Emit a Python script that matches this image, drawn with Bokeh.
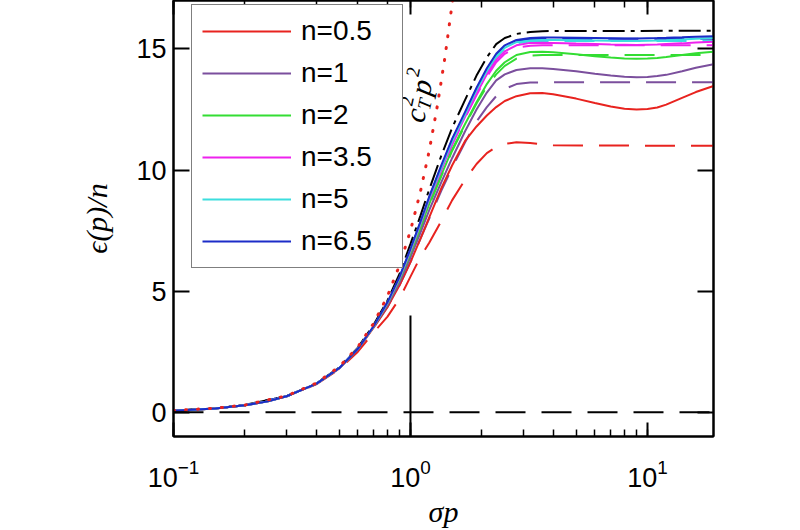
import math
from bokeh.plotting import figure
from bokeh.models import (LogAxis, LinearAxis, Range1d, Legend, LegendItem, Label,
                          FixedTicker, CustomJSTickFormatter, Span)
from bokeh.embed import file_html
from bokeh.resources import INLINE

# ---------------- data ----------------
x_solid = [0.1, 0.12, 0.15, 0.2, 0.25, 0.3, 0.4, 0.5, 0.6, 0.7, 0.8, 0.9, 1.0, 1.1, 1.2, 1.35,
           1.5, 1.7, 1.9, 2.1, 2.3, 2.5, 2.8, 3.2, 3.6, 4, 5, 6, 7, 8, 9, 10, 11, 12, 14, 16, 19]

y_n05 = [0.06, 0.1, 0.16, 0.29, 0.45, 0.66, 1.17, 1.8, 2.6, 3.5, 4.35, 5.25, 6.2, 7.15, 8.05, 9.25,
         10.2, 11.2, 11.8, 12.25, 12.6, 12.85, 13.05, 13.17, 13.18, 13.13, 12.95, 12.77, 12.62, 12.53,
         12.5, 12.52, 12.58, 12.7, 12.98, 13.22, 13.47]
y_n1 = [0.06, 0.1, 0.16, 0.29, 0.45, 0.66, 1.17, 1.82, 2.62, 3.53, 4.42, 5.37, 6.4, 7.4, 8.35, 9.5,
        10.5, 11.6, 12.5, 13.2, 13.7, 13.95, 14.13, 14.2, 14.2, 14.17, 14.08, 13.98, 13.9, 13.85,
        13.83, 13.84, 13.88, 13.93, 14.08, 14.22, 14.37]
y_n2 = [0.06, 0.1, 0.16, 0.29, 0.45, 0.66, 1.17, 1.82, 2.62, 3.54, 4.47, 5.47, 6.55, 7.6, 8.6, 9.8,
        10.85, 11.9, 12.8, 13.55, 14.1, 14.45, 14.75, 14.87, 14.88, 14.86, 14.78, 14.7, 14.65, 14.61,
        14.6, 14.61, 14.63, 14.67, 14.75, 14.82, 14.88]
y_n35 = [0.06, 0.1, 0.16, 0.29, 0.45, 0.66, 1.17, 1.82, 2.62, 3.55, 4.5, 5.53, 6.65, 7.75, 8.8, 10.0,
         11.1, 12.2, 13.15, 13.95, 14.55, 14.9, 15.15, 15.25, 15.26, 15.25, 15.22, 15.2, 15.18, 15.17,
         15.16, 15.17, 15.18, 15.2, 15.23, 15.27, 15.3]
y_n5 = [0.06, 0.1, 0.16, 0.29, 0.45, 0.66, 1.17, 1.82, 2.62, 3.55, 4.53, 5.57, 6.7, 7.8, 8.85, 10.1,
        11.2, 12.3, 13.3, 14.1, 14.7, 15.05, 15.28, 15.35, 15.37, 15.37, 15.36, 15.35, 15.34, 15.33,
        15.33, 15.34, 15.35, 15.36, 15.39, 15.42, 15.45]
y_n65 = [0.06, 0.1, 0.16, 0.29, 0.45, 0.66, 1.17, 1.82, 2.62, 3.56, 4.55, 5.6, 6.75, 7.85, 8.9, 10.2,
         11.3, 12.4, 13.4, 14.2, 14.8, 15.15, 15.37, 15.45, 15.47, 15.47, 15.46, 15.45, 15.44, 15.43,
         15.43, 15.44, 15.45, 15.46, 15.48, 15.5, 15.52]

x_dash = [0.1, 0.15, 0.2, 0.3, 0.4, 0.5, 0.6, 0.7, 0.8, 0.9, 1.0, 1.1, 1.2, 1.35, 1.5, 1.7, 1.9,
          2.1, 2.3, 2.5, 2.8, 3.2, 3.6, 4, 19]
yd_n05 = [0.06, 0.16, 0.29, 0.66, 1.15, 1.78, 2.5, 3.3, 3.95, 4.7, 5.6, 6.4, 7.0, 7.9, 8.76, 9.6,
          10.25, 10.7, 10.95, 11.08, 11.15, 11.12, 11.06, 11.02, 11.0]
yd_n1 = [0.06, 0.16, 0.29, 0.66, 1.17, 1.82, 2.6, 3.5, 4.35, 5.25, 6.2, 7.15, 8.0, 9.15, 10.1, 11.15,
         12.0, 12.6, 13.05, 13.35, 13.55, 13.61, 13.62, 13.62, 13.62]
yd_n2 = [0.06, 0.16, 0.29, 0.66, 1.17, 1.82, 2.62, 3.54, 4.45, 5.43, 6.5, 7.55, 8.55, 9.75, 10.8,
         11.85, 12.75, 13.45, 13.95, 14.3, 14.6, 14.72, 14.75, 14.75, 14.75]
yd_n35 = [0.06, 0.16, 0.29, 0.66, 1.17, 1.82, 2.62, 3.55, 4.5, 5.52, 6.62, 7.72, 8.75, 9.95, 11.05,
          12.15, 13.1, 13.85, 14.45, 14.8, 15.05, 15.13, 15.15, 15.15, 15.15]
yd_n5 = [0.06, 0.16, 0.29, 0.66, 1.17, 1.82, 2.62, 3.55, 4.52, 5.56, 6.68, 7.78, 8.83, 10.05, 11.15,
         12.25, 13.25, 14.05, 14.65, 15.0, 15.23, 15.31, 15.33, 15.33, 15.33]
yd_n65 = [0.06, 0.16, 0.29, 0.66, 1.17, 1.82, 2.62, 3.56, 4.54, 5.58, 6.72, 7.82, 8.87, 10.15, 11.25,
          12.35, 13.35, 14.15, 14.75, 15.1, 15.33, 15.41, 15.42, 15.42, 15.42]
yd_limit = [0.06, 0.16, 0.3, 0.67, 1.19, 1.85, 2.67, 3.62, 4.62, 5.72, 6.95, 8.1, 9.2, 10.6, 11.75,
            12.9, 13.9, 14.65, 15.2, 15.45, 15.62, 15.7, 15.73, 15.74, 15.75]

x_parab = [0.1, 0.15, 0.2, 0.3, 0.4, 0.5, 0.6, 0.7, 0.8, 0.9, 1.0, 1.1, 1.2, 1.3, 1.4, 1.5, 1.55]
y_parab = [0.075, 0.17, 0.3, 0.68, 1.2, 1.88, 2.7, 3.68, 4.8, 6.08, 7.5, 9.08, 10.8, 12.68, 14.7,
           16.88, 18.0]

labels = ["n=0.5", "n=1", "n=2", "n=3.5", "n=5", "n=6.5"]
colors = ["#e8231f", "#7b4f9d", "#33dd33", "#ee22ee", "#3cdede", "#1c2cc8"]
solid_series = [y_n05, y_n1, y_n2, y_n35, y_n5, y_n65]
dash_series = [yd_n05, yd_n1, yd_n2, yd_n35, yd_n5, yd_n65]

y_ticks = [0, 5, 10, 15]
zero_level = 0.0
vline_x = [1.0]
vline_y = [-1.0, 4.0]
x_lim = (0.1, 19.0)
y_lim = (-1.0, 17.0)

# ---------------- figure ----------------
p = figure(width=790, height=530, x_axis_type="log",
           x_range=Range1d(*x_lim), y_range=Range1d(*y_lim),
           output_backend="svg", toolbar_location=None,
           min_border_left=173, min_border_right=77, min_border_top=0, min_border_bottom=94)
p.grid.visible = False
p.outline_line_color = "black"
p.outline_line_width = 2
p.background_fill_color = "white"
p.border_fill_color = "white"

tick_font = "Liberation Sans"
math_font = "Liberation Serif"

def style_x(ax, show_labels):
    ax.axis_line_width = 2
    ax.axis_line_color = "black"
    ax.major_tick_in = 14
    ax.major_tick_out = 0
    ax.minor_tick_in = 7
    ax.minor_tick_out = 0
    ax.major_tick_line_width = 2
    ax.minor_tick_line_width = 1.5
    ax.major_tick_line_color = "black"
    ax.minor_tick_line_color = "black"
    if show_labels:
        ax.major_label_text_font = tick_font
        ax.major_label_text_font_size = "27px"
        ax.major_label_text_color = "black"
        ax.major_label_standoff = 22
    else:
        ax.formatter = CustomJSTickFormatter(code="return ''")
        ax.major_label_standoff = 0

def style_y(ax, show_labels):
    ax.ticker = FixedTicker(ticks=y_ticks, minor_ticks=[])
    ax.axis_line_width = 2
    ax.axis_line_color = "black"
    ax.major_tick_in = 16
    ax.major_tick_out = 0
    ax.minor_tick_in = 0
    ax.minor_tick_out = 0
    ax.major_tick_line_width = 2
    ax.major_tick_line_color = "black"
    if show_labels:
        ax.major_label_text_font = tick_font
        ax.major_label_text_font_size = "27px"
        ax.major_label_text_color = "black"
        ax.major_label_standoff = 7
    else:
        ax.formatter = CustomJSTickFormatter(code="return ''")
        ax.major_label_standoff = 0

xb = p.xaxis[0]
style_x(xb, True)
xb.axis_label = "σp"
xb.axis_label_text_font = math_font
xb.axis_label_text_font_style = "italic"
xb.axis_label_text_font_size = "30px"
xb.axis_label_standoff = 5
xb.axis_label_text_color = "black"

yl = p.yaxis[0]
style_y(yl, True)
yl.axis_label = "ϵ(p)/n"
yl.axis_label_text_font = math_font + ", DejaVu Serif"
yl.axis_label_text_font_style = "italic"
yl.axis_label_text_font_size = "30px"
yl.axis_label_standoff = 20
yl.axis_label_text_color = "black"

xt = LogAxis()
style_x(xt, False)
p.add_layout(xt, "above")
yr = LinearAxis()
style_y(yr, False)
p.add_layout(yr, "right")

# reference lines
p.add_layout(Span(location=zero_level, dimension="width", line_color="black",
                  line_width=2, line_dash="30 16"))
p.segment(x0=vline_x, y0=[vline_y[0]], x1=vline_x, y1=[vline_y[1]],
          line_color="black", line_width=2)

# dashed curves
for ys, c in zip(dash_series, colors):
    p.line(x_dash, ys, line_color=c, line_width=2, line_dash="30 16")

# dash-dot limit curve
p.line(x_dash, yd_limit, line_color="black", line_width=2, line_dash="22 6 4 6")

# solid curves
items = []
for ys, c, lab in zip(solid_series, colors, labels):
    r = p.line(x_solid, ys, line_color=c, line_width=2)
    items.append(LegendItem(label=lab, renderers=[r]))

# dotted parabola
p.line(x_parab, y_parab, line_color="#e8231f", line_width=3, line_dash="1 11",
       line_cap="round")

legend = Legend(items=items, location=(18, 168), padding=10, spacing=10,
                glyph_height=30, label_height=30, glyph_width=89, label_standoff=10,
                label_width=91, margin=0,
                label_text_font=tick_font, label_text_font_size="28px",
                label_text_color="black", border_line_color="black",
                border_line_width=1.5, background_fill_color="white",
                background_fill_alpha=1.0)
p.add_layout(legend, "center")

# c_T^2 p^2 annotation, rotated
theta = math.radians(78)
anchor_x, anchor_y = 1.03, 12.0
pieces = [("c", 0, 0, "30px", "italic"),
          ("2", 14, 11, "19px", "normal"),
          ("T", 14, -7, "19px", "italic"),
          ("p", 28, 0, "30px", "italic"),
          ("2", 44, 11, "19px", "normal")]
for txt, u, v, fs, st in pieces:
    dx = u * math.cos(theta) - v * math.sin(theta)
    dy = u * math.sin(theta) + v * math.cos(theta)
    p.add_layout(Label(x=anchor_x, y=anchor_y, x_offset=dx, y_offset=dy, text=txt,
                       angle=theta, angle_units="rad", text_font=math_font,
                       text_font_style=st, text_font_size=fs, text_color="black",
                       text_align="left", text_baseline="alphabetic"))

open("out.html", "w").write(file_html(p, INLINE))
